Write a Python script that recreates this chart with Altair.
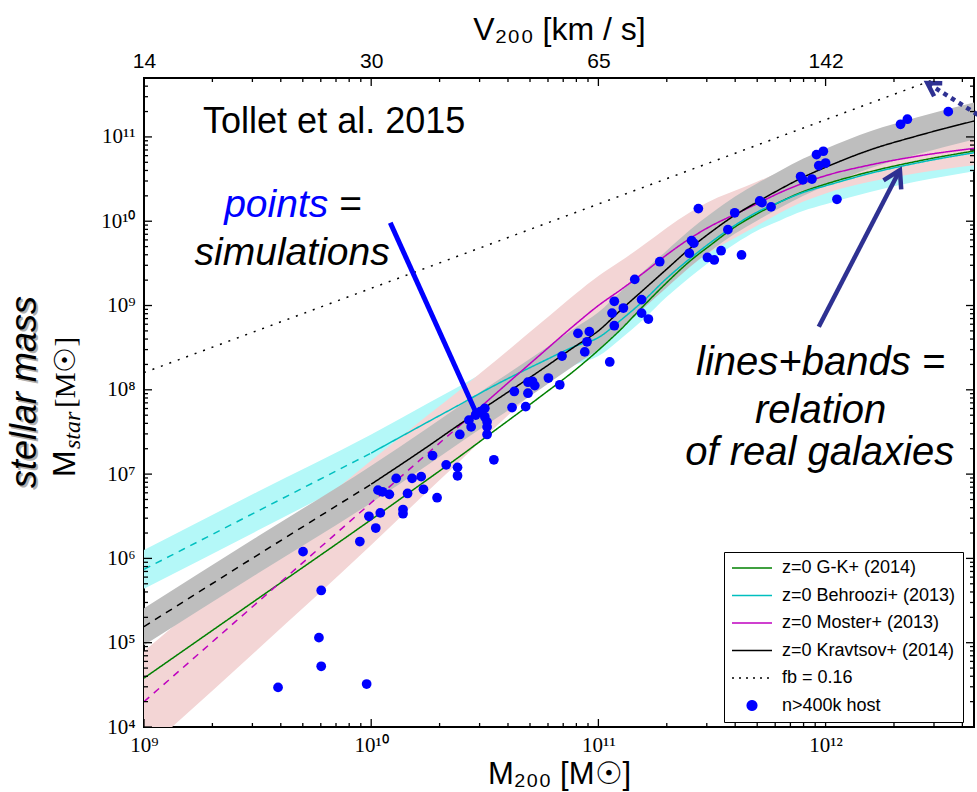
import json
import math
import pandas as pd
import altair as alt

# ---------------- data (log10 of masses in Msun) ----------------
GRID = [9.0, 9.5, 10.0, 10.25, 10.4, 10.5, 10.75, 10.9, 11.0, 11.1, 11.2, 11.3,
        11.4, 11.5, 11.6, 11.7, 11.8, 11.9, 12.0, 12.2, 12.4, 12.67]
GK_LOG = [4.58, 5.52, 6.46, 6.94, 7.23, 7.43, 7.93, 8.24, 8.47, 8.72, 9.00, 9.27,
          9.52, 9.73, 9.93, 10.09, 10.23, 10.35, 10.44, 10.59, 10.71, 10.84]
BEH_LOG = [5.87, 6.56, 7.25, 7.62, 7.84, 7.99, 8.33, 8.52, 8.62, 8.83, 9.06, 9.32,
           9.55, 9.76, 9.95, 10.11, 10.23, 10.34, 10.42, 10.57, 10.69, 10.82]
MOS_LOG = [4.30, 5.48, 6.66, 7.25, 7.60, 7.84, 8.43, 8.78, 9.00, 9.19, 9.39, 9.60,
           9.79, 9.95, 10.08, 10.21, 10.34, 10.45, 10.54, 10.67, 10.77, 10.87]
KRA_LOG = [5.19, 6.04, 6.88, 7.33, 7.61, 7.79, 8.24, 8.52, 8.70, 8.95, 9.19, 9.43,
           9.67, 9.88, 10.07, 10.23, 10.38, 10.52, 10.64, 10.85, 11.01, 11.20]
# half widths of the shaded bands (dex)
BEH_HW = [0.23, 0.23, 0.22, 0.22, 0.22, 0.22, 0.22, 0.22, 0.22, 0.22, 0.22, 0.22,
          0.22, 0.22, 0.22, 0.22, 0.22, 0.22, 0.22, 0.22, 0.22, 0.22]
MOS_HW = [0.60, 0.56, 0.50, 0.45, 0.42, 0.40, 0.37, 0.36, 0.35, 0.34, 0.33, 0.32,
          0.31, 0.30, 0.28, 0.26, 0.24, 0.22, 0.21, 0.20, 0.20, 0.20]
KRA_HW = [0.22, 0.22, 0.22, 0.22, 0.22, 0.22, 0.22, 0.22, 0.22, 0.22, 0.22, 0.22,
          0.22, 0.22, 0.22, 0.22, 0.22, 0.22, 0.22, 0.22, 0.22, 0.22]
# last halo mass (log) of the dashed (extrapolated) part of each relation
DASH_END = {"z=0 G-K+ (2014)": 9.0, "z=0 Behroozi+ (2013)": 10.0,
            "z=0 Moster+ (2013)": 10.4, "z=0 Kravtsov+ (2014)": 10.0}

FB_M = [1e9, 4.5e12]
FB_MS = [1.6e8, 7.2e11]

PT_LOGM = [9.70, 9.78, 9.77, 9.78, 9.59, 9.98, 9.95, 9.99, 10.02, 10.03,
           10.04, 10.05, 10.08, 10.11, 10.14, 10.14, 10.16, 10.18, 10.22, 10.23,
           10.27, 10.29, 10.33, 10.38, 10.38, 10.39, 10.43, 10.44, 10.46, 10.48,
           10.50, 10.50, 10.51, 10.51, 10.51, 10.54, 10.62, 10.63, 10.68, 10.69,
           10.69, 10.71, 10.72, 10.78, 10.83, 10.84, 10.91, 10.94, 10.96, 10.95,
           11.05, 11.06, 11.07, 11.07, 11.11, 11.19, 11.19, 11.22, 11.16, 11.27,
           11.40, 11.41, 11.42, 11.44, 11.48, 11.51, 11.54, 11.57, 11.60, 11.63,
           11.71, 11.72, 11.76, 11.89, 11.90, 11.94, 11.96, 11.99, 11.97, 12.00,
           12.05, 12.33, 12.36, 12.54]
PT_LOGMS = [6.08, 5.62, 5.06, 4.72, 4.47, 4.51, 6.20, 6.50, 6.36, 6.81,
            6.54, 6.79, 6.76, 6.95, 6.58, 6.53, 6.77, 6.95, 6.97, 6.82,
            7.22, 6.72, 7.11, 7.08, 6.98, 7.47, 7.64, 7.56, 7.70, 7.74,
            7.78, 7.68, 7.62, 7.56, 7.47, 7.17, 7.79, 7.98, 7.80, 7.96,
            8.09, 8.10, 8.05, 8.14, 8.06, 8.40, 8.67, 8.45, 8.69, 8.57,
            8.33, 8.91, 8.76, 9.05, 8.97, 9.07, 8.91, 8.84, 9.31, 9.52,
            9.62, 9.77, 9.74, 10.15, 9.57, 9.54, 9.65, 9.90, 10.10, 9.60,
            10.24, 10.22, 10.17, 10.53, 10.49, 10.50, 10.79, 10.83, 10.66, 10.69,
            10.26, 11.15, 11.21, 11.30]

SERIES = ["z=0 G-K+ (2014)", "z=0 Behroozi+ (2013)", "z=0 Moster+ (2013)",
          "z=0 Kravtsov+ (2014)", "fb = 0.16", "n>400k host"]
SERIES_COLORS = ["#008000", "#00bfbf", "#bf00bf", "#000000", "#000000", "#0000ff"]
BAND_COLORS = {"beh": "#b4f8f8", "mos": "#f3d5d5", "kra": "#bebebe"}

X_MAJOR = [1e9, 1e10, 1e11, 1e12]
X_TICK_LABELS = ["10⁹", "10¹⁰", "10¹¹", "10¹²"]
TOP_TICK_LABELS = ["14", "30", "65", "142"]
Y_MAJOR = [1e4, 1e5, 1e6, 1e7, 1e8, 1e9, 1e10, 1e11]
Y_TICK_LABELS = ["10⁴", "10⁵", "10⁶", "10⁷", "10⁸", "10⁹", "10¹⁰", "10¹¹"]
X_MINOR = [k * 10.0 ** d for d in range(9, 13) for k in range(2, 10) if k * 10.0 ** d <= 4.5e12]
Y_MINOR = [k * 10.0 ** d for d in range(4, 12) for k in range(2, 10) if k * 10.0 ** d <= 5e11]

# annotation anchors in data units (log10)
ANNOT = {
    "tollet": (9.26, 11.046), "points": (9.811, 10.050), "eq": (9.859, 10.050),
    "simul": (9.652, 9.480), "lines": (11.978, 8.176), "relation": (11.978, 7.606),
    "galaxies": (11.974, 7.108),
}
ARROW_BLUE = [(10.084, 9.982), (10.466, 7.701)]
ARROW_NAVY = [(11.970, 8.749), (12.327, 10.607)]
ARROW_DOT = [(12.670, 11.263), (12.448, 11.639)]

# ---------------- chart ----------------
W, H = 830, 649
XS = alt.Scale(type="log", domain=[1e9, 4.5e12], nice=False)
YS = alt.Scale(type="log", domain=[1e4, 5e11], nice=False)
CS = alt.Scale(domain=SERIES, range=SERIES_COLORS)
DS = alt.Scale(domain=["solid", "dashed", "dotted"], range=[[1, 0], [7, 6], [2, 7]])

lab = lambda arr, base: "%s[round(log(datum.value)/LN10) - %d]" % (json.dumps(arr, ensure_ascii=False), base)

AX_BOTTOM = alt.Axis(orient="bottom", values=X_MAJOR, labelExpr=lab(X_TICK_LABELS, 9),
                     labelFont="Liberation Serif", labelFontSize=21, labelColor="black",
                     labelPadding=7, labelFlush=False, labelOverlap=False, ticks=False,
                     domain=False, grid=False, title="M₂₀₀ [M☉]", titleFont="Liberation Sans",
                     titleFontSize=31, titleFontWeight="normal", titleColor="black", titlePadding=4)
AX_TOP = alt.Axis(orient="top", values=X_MAJOR, labelExpr=lab(TOP_TICK_LABELS, 9),
                  labelFont="Liberation Sans", labelFontSize=21, labelColor="black",
                  labelPadding=7, labelFlush=False, labelOverlap=False, ticks=False,
                  domain=False, grid=False, title="V₂₀₀ [km / s]", titleFont="Liberation Sans",
                  titleFontSize=32, titleFontWeight="normal", titleColor="black", titlePadding=4)
AX_LEFT = alt.Axis(orient="left", values=Y_MAJOR, labelExpr=lab(Y_TICK_LABELS, 4),
                   labelFont="Liberation Serif", labelFontSize=21, labelColor="black",
                   labelPadding=9, labelFlush=False, labelOverlap=False, ticks=False,
                   domain=False, grid=False, title=None)

PT_NAME = SERIES[5]
FB_NAME = SERIES[4]
circ = "M" + "L".join("%.3f,%.3f" % (1.5 + 0.6 * math.cos(2 * math.pi * i / 20),
                                     0.6 * math.sin(2 * math.pi * i / 20)) for i in range(20)) + "Z"


def make_legend(with_expr):
    kw = dict(orient="none", legendX=580, legendY=474, title=None, symbolSize=256,
              symbolStrokeWidth=1.5, labelFont="Liberation Sans",
              labelFontSize=18, labelColor="black", labelOffset=33, rowPadding=9.5, padding=7,
              strokeColor="black", fillColor="white", cornerRadius=0, labelLimit=0)
    if with_expr:
        kw["symbolType"] = {"expr": "datum.value === '%s' ? '%s' : 'M-1,0H4'" % (PT_NAME, circ)}
        kw["symbolFillColor"] = {"expr": "datum.value === '%s' ? '#0000ff' : 'transparent'" % PT_NAME}
        kw["symbolStrokeColor"] = {"expr": "datum.value === '%s' ? '#0000ff' : scale('color', datum.value)" % PT_NAME}
        kw["symbolDash"] = {"expr": "datum.value === '%s' ? [2, 5] : []" % FB_NAME}
    else:
        kw["symbolType"] = "stroke"
    return alt.Legend(**kw)


# tables
line_rows = []
for name, vals in zip(SERIES[:4], [GK_LOG, BEH_LOG, MOS_LOG, KRA_LOG]):
    end = DASH_END[name]
    for i, (a, b) in enumerate(zip(GRID, vals)):
        if a <= end and end > GRID[0]:
            line_rows.append(dict(series=name, style="dashed", seg=name + "d", o=i, m=10 ** a, ms=10 ** b))
        if a >= end:
            line_rows.append(dict(series=name, style="solid", seg=name + "s", o=i, m=10 ** a, ms=10 ** b))
for i, (a, b) in enumerate(zip(FB_M, FB_MS)):
    line_rows.append(dict(series=FB_NAME, style="dotted", seg="fb", o=i, m=a, ms=b))
lines_df = pd.DataFrame(line_rows)

pts_df = pd.DataFrame({"m": [10 ** v for v in PT_LOGM], "ms": [10 ** v for v in PT_LOGMS],
                       "series": PT_NAME})


def band(vals, hw, color):
    df = pd.DataFrame({"m": [10 ** a for a in GRID],
                       "lo": [10 ** (v - h) for v, h in zip(vals, hw)],
                       "hi": [10 ** (v + h) for v, h in zip(vals, hw)]})
    return alt.Chart(df).mark_area(color=color, opacity=1, clip=True, interpolate="monotone").encode(
        x=alt.X("m:Q", scale=XS, axis=None), y=alt.Y("lo:Q", scale=YS, axis=None), y2="hi:Q")


def dtext(t, key, **kw):
    a, b = ANNOT[key]
    df = pd.DataFrame({"x": [10 ** a], "y": [10 ** b], "t": [t]})
    return alt.Chart(df).mark_text(baseline="alphabetic", **kw).encode(
        x=alt.X("x:Q", scale=XS, axis=None), y=alt.Y("y:Q", scale=YS, axis=None), text="t:N")


def ptext(t, px, py, **kw):
    return alt.Chart(pd.DataFrame({"t": [t]})).mark_text(**kw).encode(
        x=alt.value(px), y=alt.value(py), text="t:N")


def arrow(seg, color, width, dash=None):
    (a0, b0), (a1, b1) = seg
    df = pd.DataFrame({"x": [10 ** a0], "y": [10 ** b0], "x2": [10 ** a1], "y2": [10 ** b1]})
    kw = dict(color=color, strokeWidth=width)
    if dash:
        kw["strokeDash"] = dash
    return alt.Chart(df).mark_rule(**kw).encode(
        x=alt.X("x:Q", scale=XS, axis=None), y=alt.Y("y:Q", scale=YS, axis=None), x2="x2:Q", y2="y2:Q")


def head(seg, color, width, size, angle):
    a1, b1 = seg[1]
    df = pd.DataFrame({"x": [10 ** a1], "y": [10 ** b1]})
    return alt.Chart(df).mark_point(shape="M-0.6,1L0,0L0.6,1", filled=False, size=size, angle=angle,
                                    strokeWidth=width, color=color, opacity=1,
                                    strokeJoin="miter").encode(
        x=alt.X("x:Q", scale=XS, axis=None), y=alt.Y("y:Q", scale=YS, axis=None))


def ticks_x(vals, y0, y1, axis):
    return alt.Chart(pd.DataFrame({"v": vals})).mark_rule(color="black", strokeWidth=1.3).encode(
        x=alt.X("v:Q", scale=XS, axis=axis), y=alt.value(y0), y2=alt.value(y1))


def ticks_y(vals, x0, x1, axis):
    return alt.Chart(pd.DataFrame({"v": vals})).mark_rule(color="black", strokeWidth=1.3).encode(
        y=alt.Y("v:Q", scale=YS, axis=axis), x=alt.value(x0), x2=alt.value(x1))


def build(with_expr):
    leg = make_legend(with_expr)
    layers = [
        band(BEH_LOG, BEH_HW, BAND_COLORS["beh"]),
        band(MOS_LOG, MOS_HW, BAND_COLORS["mos"]),
        band(KRA_LOG, KRA_HW, BAND_COLORS["kra"]),
        alt.Chart(lines_df).mark_line(strokeWidth=1.5, clip=True, interpolate="monotone").encode(
            x=alt.X("m:Q", scale=XS, axis=None), y=alt.Y("ms:Q", scale=YS, axis=None),
            color=alt.Color("series:N", scale=CS, legend=leg),
            strokeDash=alt.StrokeDash("style:N", scale=DS, legend=None),
            detail="seg:N", order="o:Q"),
        alt.Chart(pts_df).mark_circle(size=95, opacity=1, clip=True).encode(
            x=alt.X("m:Q", scale=XS, axis=None), y=alt.Y("ms:Q", scale=YS, axis=None),
            color=alt.Color("series:N", scale=CS, legend=leg)),
        arrow(ARROW_BLUE, "#0000ff", 5),
        head(ARROW_BLUE, "#0000ff", 4, 110, 156),
        arrow(ARROW_NAVY, "#2e3192", 4.5),
        head(ARROW_NAVY, "#2e3192", 4.5, 1100, 27),
        arrow(ARROW_DOT, "#2e3192", 4.5, [4.5, 4.5]),
        head(ARROW_DOT, "#2e3192", 4.5, 650, 302),
        dtext("Tollet et al. 2015", "tollet", align="left", font="Liberation Sans", fontSize=36, color="black"),
        dtext("points", "points", align="right", font="Liberation Sans", fontSize=39, fontStyle="italic", color="#0000ff"),
        dtext("=", "eq", align="left", font="Liberation Sans", fontSize=39, color="black"),
        dtext("simulations", "simul", align="center", font="Liberation Sans", fontSize=39, fontStyle="italic", color="black"),
        dtext("lines+bands =", "lines", align="center", font="Liberation Sans", fontSize=40, fontStyle="italic", color="black"),
        dtext("relation", "relation", align="center", font="Liberation Sans", fontSize=40, fontStyle="italic", color="black"),
        dtext("of real galaxies", "galaxies", align="center", font="Liberation Sans", fontSize=40, fontStyle="italic", color="black"),
        ptext("stellar mass", -117, 316, angle=270, align="center", baseline="middle", font="Liberation Sans",
              fontSize=36, fontStyle="italic", color="#8f8f8f", opacity=0.7),
        ptext("stellar mass", -119, 314, angle=270, align="center", baseline="middle", font="Liberation Sans",
              fontSize=36, fontStyle="italic", color="black"),
        ptext("M", -69, 399, angle=270, align="left", baseline="alphabetic", font="Liberation Sans",
              fontSize=32, color="black"),
        ptext("star", -64, 371, angle=270, align="left", baseline="alphabetic", font="Liberation Serif",
              fontSize=24, fontStyle="italic", color="black"),
        ptext("[M☉]", -69, 330, angle=270, align="left", baseline="alphabetic", font="Liberation Serif",
              fontSize=29, color="black"),
        ticks_x(X_MAJOR, H, H - 8, AX_BOTTOM),
        ticks_x(X_MINOR, H, H - 4, None),
        ticks_x(X_MAJOR, 0, 8, AX_TOP),
        ticks_x(X_MINOR, 0, 4, None),
        ticks_y(Y_MAJOR, 0, 8, AX_LEFT),
        ticks_y(Y_MINOR, 0, 4, None),
        ticks_y(Y_MAJOR, W, W - 8, None),
        ticks_y(Y_MINOR, W, W - 4, None),
    ]
    ch = alt.layer(*layers).resolve_axis(x="independent", y="independent").properties(
        width=W, height=H, autosize=alt.AutoSizeParams(type="none"),
        padding={"left": 144, "top": 78, "right": 3, "bottom": 65}, background="white",
    ).configure_view(stroke="black", strokeWidth=2)
    return ch


try:
    chart = build(True)
    chart.to_dict()
except Exception:
    chart = build(False)

chart.save("out.html", embed_options={"renderer": "svg", "actions": False})
